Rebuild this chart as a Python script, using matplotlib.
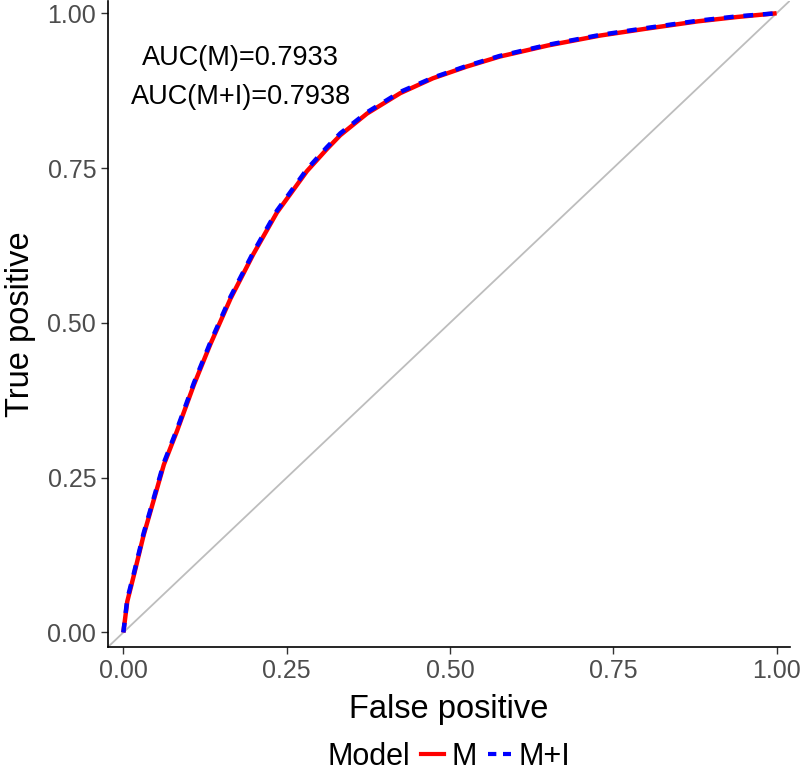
import matplotlib

matplotlib.use("Agg")
import matplotlib.pyplot as plt
from matplotlib.lines import Line2D
from matplotlib.offsetbox import HPacker

plt.rcParams['font.family'] = ['Liberation Sans', 'DejaVu Sans']

# ROC points
fpr = [0.0, 0.006, 0.016, 0.031, 0.046, 0.062, 0.082, 0.108, 0.133, 0.164, 0.199,
       0.235, 0.281, 0.311, 0.332, 0.373, 0.424, 0.474, 0.526, 0.576, 0.65, 0.73,
       0.80, 0.88, 0.94, 1.0]
tpr_m = [0.0, 0.05, 0.092, 0.157, 0.212, 0.271, 0.325, 0.400, 0.465, 0.539, 0.611,
         0.678, 0.745, 0.780, 0.803, 0.838, 0.871, 0.895, 0.914, 0.930, 0.948, 0.964,
         0.975, 0.987, 0.994, 1.0]
tpr_mi = [0.0, 0.054, 0.095, 0.160, 0.215, 0.274, 0.328, 0.403, 0.468, 0.542, 0.614,
          0.681, 0.748, 0.783, 0.806, 0.840, 0.873, 0.896, 0.915, 0.931, 0.949, 0.965,
          0.976, 0.988, 0.995, 1.0]

auc_labels = ["AUC(M)=0.7933", "AUC(M+I)=0.7938"]
ticks = [0.0, 0.25, 0.5, 0.75, 1.0]
tick_labels = ["0.00", "0.25", "0.50", "0.75", "1.00"]

fig = plt.figure(figsize=(8, 7.77), dpi=100)
ax = fig.add_axes([0.135, 0.1673, 0.8525, 0.832])

lo, hi = -0.0235, 1.0205
ax.plot([lo, hi], [lo, hi], color="#bdbdbd", lw=1.3, zorder=1)
ax.plot(fpr, tpr_m, color="#ff0000", lw=3.2, solid_capstyle="butt", zorder=2)
ax.plot(fpr, tpr_mi, color="#0000ff", lw=3.2, ls=(0, (2.2, 2.2)), zorder=3)

ax.text(0.180, 0.928, auc_labels[0], fontsize=19.5, ha="center", va="center")
ax.text(0.180, 0.865, auc_labels[1], fontsize=19.5, ha="center", va="center")

ax.set_xlim(lo, hi)
ax.set_ylim(lo, hi)
ax.set_xticks(ticks)
ax.set_xticklabels(tick_labels)
ax.set_yticks(ticks)
ax.set_yticklabels(tick_labels)
ax.tick_params(direction="out", length=5, width=1, color="#333333",
               labelsize=18, labelcolor="#4d4d4d")
for side in ["top", "right"]:
    ax.spines[side].set_visible(False)
for side in ["left", "bottom"]:
    ax.spines[side].set_linewidth(1.2)
    ax.spines[side].set_color("black")

ax.set_xlabel("False positive", fontsize=23.5, labelpad=8)
ax.set_ylabel("True positive", fontsize=23.5, labelpad=8)

handles = [Line2D([], [], color="#ff0000", lw=3),
           Line2D([], [], color="#0000ff", lw=3, ls=(0, (2.0, 1.6)))]
leg = fig.legend(handles, ["M", "M+I"], title="Model", loc="center",
                 bbox_to_anchor=(0.561, 0.026), ncol=2, frameon=False, fontsize=22,
                 title_fontsize=22, handlelength=0.75, handletextpad=0.25,
                 columnspacing=0.35, borderpad=0)
# title inline to the left of the entries, like ggplot's bottom legend
leg._legend_box._children = [HPacker(pad=0, sep=8, align="center",
                                     children=[leg._legend_title_box,
                                               leg._legend_handle_box])]

fig.savefig("out.png", dpi=100)
